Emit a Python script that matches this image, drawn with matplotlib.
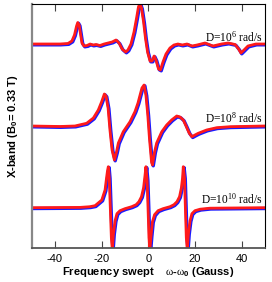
import matplotlib
matplotlib.use("Agg")
import matplotlib.pyplot as plt
import matplotlib.transforms as mtransforms

plt.rcParams['font.family'] = ['Liberation Sans', 'DejaVu Sans']
plt.rcParams['mathtext.fontset'] = 'custom'
plt.rcParams['mathtext.rm'] = 'Liberation Serif'
plt.rcParams['mathtext.it'] = 'Liberation Serif:italic'
plt.rcParams['mathtext.bf'] = 'Liberation Sans:bold'
plt.rcParams['mathtext.sf'] = 'Liberation Sans'

# field offset (Gauss) and derivative signal (arb. units)
x_d6 = [-50, -37.8, -34.4, -32.7, -31.6, -30.7, -30.2, -29.6, -29.0, -28.4, -27.5, -26.2,
        -24.9, -23.7, -22.4, -20.7, -18.9, -17.2, -15.5, -13.8, -12.5, -11.2, -9.7, -8.7,
        -7.4, -6.1, -5.0, -4.2, -3.6, -2.9, -2.0, -1.2, -0.3, 0.75, 1.6, 2.5, 3.3, 4.4,
        5.2, 6.3, 7.6, 9.3, 11.0, 12.7, 14.5, 16.6, 18.7, 20.9, 24.3, 27.7, 31.4, 34.2,
        37.2, 38.7, 39.7, 41.0, 42.7, 46.1, 50]
y_d6 = [0, 0, 0.5, 3, 9, 18, 21.5, 19, 10, 1, -2, -1.5,
        0, -1, -0.5, -1.5, 0, 1, 2, 4, 1, -5, -8, -6,
        0, 12, 26, 37, 40.5, 36, 22, 6, -8, -17, -17, -12, -16, -25,
        -26, -18, -10, -4, -1, 0, -1, 0, -2, -1, 1, -2, 0, 1,
        -0.5, -5, -9, -6, -2, 0, 0]

x_d8 = [-50, -37.8, -31.4, -26.4, -23.5, -21.4, -20.0, -18.8, -18.1, -17.2, -16.4, -15.5,
        -14.5, -13.6, -12.8, -10.7, -7.8, -5.7, -4.4, -3.5, -2.7, -1.8, -1.0, -0.2,
        0.5, 1.4, 1.8, 2.7, 3.6, 5.8, 7.9, 10.0, 12.2, 13.6, 15.0, 16.2, 17.5, 18.7,
        20.0, 21.4, 25.0, 29.3, 35.0, 50]
y_d8 = [0, -0.5, 0, 2.7, 8, 16, 24, 32, 30, 18, -4, -24,
        -34, -26, -17, -5.7, 4.3, 14.3, 23, 31, 38, 41, 31, 11,
        -12, -36, -39, -26, -17, -5.7, 1, 6, 10, 9, 6, 0, -7, -10.7,
        -9, -7.3, -4, -1.7, -0.7, 0]

x_d10 = [-50, -29.2, -25.0, -22.8, -19.9, -18.5, -17.85, -17.45, -17.1, -16.7, -16.25, -15.8,
         -15.4, -14.9, -14.2, -13.4, -12.1, -10.0, -7.1, -5.2, -4.0, -2.9, -2.0, -1.4,
         -1.0, -0.5, -0.1, 0.3, 0.7, 1.2, 1.8, 2.7, 4.2, 6.3, 9.3, 11.0, 12.3, 13.4,
         14.2, 14.7, 15.0, 15.5, 15.9, 16.3, 16.7, 17.2, 17.9, 18.7, 20.0, 22.2, 26.4, 50]
y_d10 = [0, 0.3, 1, 2, 7.7, 17.7, 30, 37, 41, 30, 0, -30,
         -42, -26, -13, -6, -3, -1, 1, 3, 6, 11, 20, 32,
         41, 28, 0, -30, -42, -28, -14, -7, -3, -1, 1, 3, 6, 11,
         20, 30, 41, 30, 0, -30, -42, -26, -13, -6, -3, -1.5, -0.5, 0]

spectra = [(x_d6, y_d6, r'D=10$^{6}$ rad/s'),
           (x_d8, y_d8, r'D=10$^{8}$ rad/s'),
           (x_d10, y_d10, r'D=10$^{10}$ rad/s')]
offsets = [204, 122, 40.3]
label_y = [206, 125, 44]
ticks = [-40, -20, 0, 20, 40]

fig = plt.figure(figsize=(2.72, 2.82), dpi=100)
ax = fig.add_axes([31.5 / 272, 34 / 282, 233.5 / 272, 244 / 282])

blue_tr = mtransforms.offset_copy(ax.transData, fig=fig, x=0.6, y=-0.6, units='points')
for (xs, ys, lab), off, ly in zip(spectra, offsets, label_y):
    yy = [v + off for v in ys]
    ax.plot(xs, yy, color='#1a1aff', lw=2.4, transform=blue_tr, solid_capstyle='round')
    ax.plot(xs, yy, color='#ff1a1a', lw=2.0, solid_capstyle='round')
    ax.text(48.8, ly, lab, family=['Liberation Serif', 'DejaVu Serif'], fontsize=8.3,
            ha='right', va='baseline')

ax.set_xlim(-50, 50)
ax.set_ylim(0, 244)
ax.set_yticks([])
ax.set_xticks(ticks)
ax.set_xticklabels([str(t) for t in ticks])
ax.tick_params(axis='x', direction='in', length=5, width=0.8, color='#444444',
               top=True, labelsize=8, pad=4)

ax.spines['left'].set_color('#888888')
ax.spines['left'].set_linewidth(1.6)
ax.spines['bottom'].set_color('#555555')
ax.spines['bottom'].set_linewidth(1.3)
ax.spines['top'].set_linewidth(0.8)
ax.spines['right'].set_linewidth(0.8)

ax.set_xlabel(r'Frequency swept    $\mathrm{\omega}$-$\mathrm{\omega}_\mathbf{0}$ (Gauss)',
              fontsize=8, fontweight='bold', labelpad=1)
ax.set_ylabel(r'X-band (B$_\mathbf{0}$= 0.33 T)', fontsize=8, fontweight='bold', labelpad=8)

fig.savefig('out.png', dpi=100)
